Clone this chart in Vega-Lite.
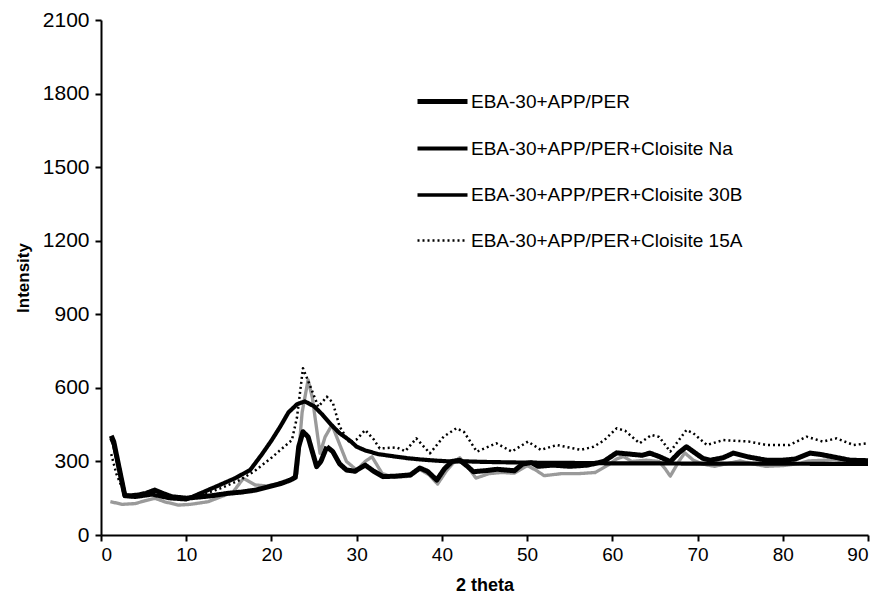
{
  "$schema": "https://vega.github.io/schema/vega-lite/v6.json",
  "width": 767,
  "height": 515,
  "autosize": {"type": "none"},
  "padding": {"left": 101, "top": 20, "right": 13, "bottom": 62},
  "background": "white",
  "config": {
    "view": {"stroke": null},
    "font": "Liberation Sans",
    "axis": {
      "grid": false,
      "domainColor": "black",
      "domainWidth": 2,
      "tickColor": "black",
      "tickWidth": 2,
      "tickSize": 6,
      "labelColor": "black",
      "titleColor": "black",
      "labelFont": "Liberation Sans",
      "titleFont": "Liberation Sans",
      "titleFontWeight": "bold"
    }
  },
  "data": {
    "values": [
      {"s": "C", "x": 1.1, "y": 136}, {"s": "C", "x": 2.5, "y": 125}, {"s": "C", "x": 4, "y": 128}, {"s": "C", "x": 5.2, "y": 140},
      {"s": "C", "x": 6.3, "y": 150}, {"s": "C", "x": 7.5, "y": 135}, {"s": "C", "x": 9.1, "y": 122}, {"s": "C", "x": 10.5, "y": 125},
      {"s": "C", "x": 12.6, "y": 136}, {"s": "C", "x": 14, "y": 155}, {"s": "C", "x": 15.5, "y": 175}, {"s": "C", "x": 16.7, "y": 231},
      {"s": "C", "x": 18.1, "y": 204}, {"s": "C", "x": 19.5, "y": 200}, {"s": "C", "x": 21, "y": 212}, {"s": "C", "x": 22.3, "y": 225},
      {"s": "C", "x": 23, "y": 250}, {"s": "C", "x": 23.6, "y": 500}, {"s": "C", "x": 24.3, "y": 632}, {"s": "C", "x": 24.8, "y": 560},
      {"s": "C", "x": 25.7, "y": 333}, {"s": "C", "x": 26.3, "y": 400}, {"s": "C", "x": 27.1, "y": 449}, {"s": "C", "x": 28, "y": 370},
      {"s": "C", "x": 28.8, "y": 300}, {"s": "C", "x": 30, "y": 265}, {"s": "C", "x": 31, "y": 300}, {"s": "C", "x": 31.8, "y": 319},
      {"s": "C", "x": 33, "y": 250}, {"s": "C", "x": 34.5, "y": 235}, {"s": "C", "x": 36.3, "y": 240}, {"s": "C", "x": 37.4, "y": 268},
      {"s": "C", "x": 38.5, "y": 245}, {"s": "C", "x": 39.5, "y": 208}, {"s": "C", "x": 40.5, "y": 260}, {"s": "C", "x": 41.5, "y": 300},
      {"s": "C", "x": 42.1, "y": 315}, {"s": "C", "x": 43, "y": 280}, {"s": "C", "x": 44, "y": 232}, {"s": "C", "x": 45.5, "y": 250},
      {"s": "C", "x": 47, "y": 255}, {"s": "C", "x": 48.5, "y": 252}, {"s": "C", "x": 50, "y": 283}, {"s": "C", "x": 51, "y": 265},
      {"s": "C", "x": 52, "y": 242}, {"s": "C", "x": 54, "y": 250}, {"s": "C", "x": 56, "y": 250}, {"s": "C", "x": 58, "y": 255},
      {"s": "C", "x": 59.5, "y": 285}, {"s": "C", "x": 60.5, "y": 310}, {"s": "C", "x": 61.3, "y": 320}, {"s": "C", "x": 62.3, "y": 300},
      {"s": "C", "x": 64, "y": 305}, {"s": "C", "x": 65.5, "y": 300}, {"s": "C", "x": 66.2, "y": 270}, {"s": "C", "x": 66.8, "y": 240},
      {"s": "C", "x": 67.8, "y": 300}, {"s": "C", "x": 68.5, "y": 335}, {"s": "C", "x": 69.5, "y": 305}, {"s": "C", "x": 70.5, "y": 290},
      {"s": "C", "x": 72, "y": 280}, {"s": "C", "x": 74, "y": 295}, {"s": "C", "x": 75, "y": 302}, {"s": "C", "x": 76.5, "y": 290},
      {"s": "C", "x": 78, "y": 280}, {"s": "C", "x": 80, "y": 283}, {"s": "C", "x": 82, "y": 292}, {"s": "C", "x": 83, "y": 302},
      {"s": "C", "x": 85, "y": 305}, {"s": "C", "x": 86, "y": 308}, {"s": "C", "x": 88, "y": 297}, {"s": "C", "x": 90, "y": 300},

      {"s": "A", "x": 1.2, "y": 405}, {"s": "A", "x": 1.5, "y": 380}, {"s": "A", "x": 2.8, "y": 160}, {"s": "A", "x": 3.5, "y": 160},
      {"s": "A", "x": 4.4, "y": 163}, {"s": "A", "x": 5.3, "y": 170}, {"s": "A", "x": 6.3, "y": 183}, {"s": "A", "x": 7.2, "y": 170},
      {"s": "A", "x": 8.3, "y": 156}, {"s": "A", "x": 10, "y": 150}, {"s": "A", "x": 11.8, "y": 156}, {"s": "A", "x": 13, "y": 160},
      {"s": "A", "x": 14.9, "y": 170}, {"s": "A", "x": 16.5, "y": 175}, {"s": "A", "x": 18.1, "y": 183}, {"s": "A", "x": 19.5, "y": 195},
      {"s": "A", "x": 21.2, "y": 211}, {"s": "A", "x": 22.2, "y": 224}, {"s": "A", "x": 22.8, "y": 235}, {"s": "A", "x": 23.2, "y": 360},
      {"s": "A", "x": 23.7, "y": 421}, {"s": "A", "x": 24.3, "y": 400}, {"s": "A", "x": 25.3, "y": 279}, {"s": "A", "x": 25.8, "y": 300},
      {"s": "A", "x": 26.5, "y": 360}, {"s": "A", "x": 27.2, "y": 340}, {"s": "A", "x": 28, "y": 290}, {"s": "A", "x": 28.8, "y": 265},
      {"s": "A", "x": 29.8, "y": 260}, {"s": "A", "x": 31, "y": 285}, {"s": "A", "x": 32, "y": 260}, {"s": "A", "x": 33.1, "y": 238},
      {"s": "A", "x": 34.5, "y": 240}, {"s": "A", "x": 36.3, "y": 245}, {"s": "A", "x": 37.4, "y": 273}, {"s": "A", "x": 38.3, "y": 260},
      {"s": "A", "x": 39.4, "y": 224}, {"s": "A", "x": 40.3, "y": 270}, {"s": "A", "x": 41.2, "y": 300}, {"s": "A", "x": 42.1, "y": 305},
      {"s": "A", "x": 43, "y": 280}, {"s": "A", "x": 43.7, "y": 258}, {"s": "A", "x": 45, "y": 262}, {"s": "A", "x": 46.5, "y": 268},
      {"s": "A", "x": 48.5, "y": 262}, {"s": "A", "x": 49.5, "y": 290}, {"s": "A", "x": 50.5, "y": 295}, {"s": "A", "x": 51.3, "y": 280},
      {"s": "A", "x": 53, "y": 285}, {"s": "A", "x": 55, "y": 280}, {"s": "A", "x": 57.1, "y": 285}, {"s": "A", "x": 59, "y": 300},
      {"s": "A", "x": 60.5, "y": 335}, {"s": "A", "x": 62, "y": 330}, {"s": "A", "x": 63.5, "y": 325}, {"s": "A", "x": 64.4, "y": 334},
      {"s": "A", "x": 65.5, "y": 320}, {"s": "A", "x": 66.8, "y": 299}, {"s": "A", "x": 67.8, "y": 335}, {"s": "A", "x": 68.7, "y": 360},
      {"s": "A", "x": 69.5, "y": 340}, {"s": "A", "x": 70.6, "y": 313}, {"s": "A", "x": 71.5, "y": 305}, {"s": "A", "x": 73, "y": 315},
      {"s": "A", "x": 74.2, "y": 334}, {"s": "A", "x": 76, "y": 318}, {"s": "A", "x": 78.1, "y": 305}, {"s": "A", "x": 80, "y": 305},
      {"s": "A", "x": 81.5, "y": 310}, {"s": "A", "x": 83.2, "y": 334}, {"s": "A", "x": 84.5, "y": 328}, {"s": "A", "x": 86, "y": 318},
      {"s": "A", "x": 87.9, "y": 305}, {"s": "A", "x": 90, "y": 303},

      {"s": "B", "x": 1.2, "y": 395}, {"s": "B", "x": 1.5, "y": 370}, {"s": "B", "x": 2.8, "y": 160}, {"s": "B", "x": 4, "y": 155},
      {"s": "B", "x": 6, "y": 165}, {"s": "B", "x": 8, "y": 150}, {"s": "B", "x": 10, "y": 145}, {"s": "B", "x": 12.2, "y": 178},
      {"s": "B", "x": 14, "y": 205}, {"s": "B", "x": 15.7, "y": 231}, {"s": "B", "x": 17.5, "y": 265}, {"s": "B", "x": 18.9, "y": 330},
      {"s": "B", "x": 20, "y": 385}, {"s": "B", "x": 21, "y": 440}, {"s": "B", "x": 22, "y": 500}, {"s": "B", "x": 23, "y": 533},
      {"s": "B", "x": 23.9, "y": 545}, {"s": "B", "x": 25, "y": 525}, {"s": "B", "x": 26, "y": 490}, {"s": "B", "x": 27, "y": 450},
      {"s": "B", "x": 28, "y": 415}, {"s": "B", "x": 29.2, "y": 385}, {"s": "B", "x": 30, "y": 360}, {"s": "B", "x": 31, "y": 345},
      {"s": "B", "x": 32.5, "y": 330}, {"s": "B", "x": 34.7, "y": 319}, {"s": "B", "x": 36, "y": 313}, {"s": "B", "x": 37.5, "y": 308},
      {"s": "B", "x": 39.4, "y": 303}, {"s": "B", "x": 41, "y": 300}, {"s": "B", "x": 43, "y": 300}, {"s": "B", "x": 45, "y": 298},
      {"s": "B", "x": 50, "y": 295}, {"s": "B", "x": 55, "y": 294}, {"s": "B", "x": 60, "y": 292}, {"s": "B", "x": 65, "y": 292},
      {"s": "B", "x": 70, "y": 291}, {"s": "B", "x": 75, "y": 291}, {"s": "B", "x": 80, "y": 291}, {"s": "B", "x": 85, "y": 290},
      {"s": "B", "x": 90, "y": 290},

      {"s": "D", "x": 1.2, "y": 330}, {"s": "D", "x": 1.8, "y": 250}, {"s": "D", "x": 2.8, "y": 165}, {"s": "D", "x": 4, "y": 160},
      {"s": "D", "x": 6, "y": 170}, {"s": "D", "x": 8, "y": 150}, {"s": "D", "x": 10, "y": 145}, {"s": "D", "x": 12, "y": 165},
      {"s": "D", "x": 14, "y": 190}, {"s": "D", "x": 16.3, "y": 224}, {"s": "D", "x": 18, "y": 260}, {"s": "D", "x": 20, "y": 315},
      {"s": "D", "x": 21.5, "y": 360}, {"s": "D", "x": 22.4, "y": 387}, {"s": "D", "x": 23, "y": 480}, {"s": "D", "x": 23.7, "y": 680},
      {"s": "D", "x": 24.4, "y": 620}, {"s": "D", "x": 25.5, "y": 523}, {"s": "D", "x": 26.5, "y": 564}, {"s": "D", "x": 27.2, "y": 540},
      {"s": "D", "x": 28, "y": 442}, {"s": "D", "x": 29.2, "y": 375}, {"s": "D", "x": 30, "y": 390}, {"s": "D", "x": 31, "y": 428},
      {"s": "D", "x": 32, "y": 390}, {"s": "D", "x": 32.7, "y": 353}, {"s": "D", "x": 34.7, "y": 357}, {"s": "D", "x": 35.7, "y": 342},
      {"s": "D", "x": 37, "y": 394}, {"s": "D", "x": 38.6, "y": 333}, {"s": "D", "x": 40.2, "y": 401}, {"s": "D", "x": 41.7, "y": 435},
      {"s": "D", "x": 42.6, "y": 420}, {"s": "D", "x": 44.1, "y": 340}, {"s": "D", "x": 46.4, "y": 374}, {"s": "D", "x": 48.2, "y": 340},
      {"s": "D", "x": 50.1, "y": 381}, {"s": "D", "x": 51.6, "y": 347}, {"s": "D", "x": 53.5, "y": 367}, {"s": "D", "x": 56.3, "y": 347},
      {"s": "D", "x": 57.8, "y": 360}, {"s": "D", "x": 59, "y": 385}, {"s": "D", "x": 60.5, "y": 435}, {"s": "D", "x": 61.5, "y": 425},
      {"s": "D", "x": 63.2, "y": 374}, {"s": "D", "x": 64.6, "y": 408}, {"s": "D", "x": 65.5, "y": 400}, {"s": "D", "x": 66.8, "y": 340},
      {"s": "D", "x": 68.7, "y": 428}, {"s": "D", "x": 69.5, "y": 415}, {"s": "D", "x": 71.1, "y": 367}, {"s": "D", "x": 73, "y": 387},
      {"s": "D", "x": 76, "y": 381}, {"s": "D", "x": 78.1, "y": 367}, {"s": "D", "x": 80.8, "y": 367}, {"s": "D", "x": 82.8, "y": 401},
      {"s": "D", "x": 84.7, "y": 381}, {"s": "D", "x": 86.3, "y": 394}, {"s": "D", "x": 88.3, "y": 367}, {"s": "D", "x": 90, "y": 374}
    ]
  },
  "mark": {"type": "line", "interpolate": "linear", "strokeJoin": "round", "strokeCap": "butt"},
  "encoding": {
    "x": {
      "field": "x",
      "type": "quantitative",
      "scale": {"domain": [0, 90], "nice": false, "zero": false},
      "axis": {
        "values": [0, 10, 20, 30, 40, 50, 60, 70, 80, 90],
        "format": "d",
        "title": "2 theta",
        "labelFontSize": 19,
        "labelPadding": 4,
        "titleFontSize": 18,
        "titlePadding": 12
      }
    },
    "y": {
      "field": "y",
      "type": "quantitative",
      "scale": {"domain": [0, 2100], "nice": false},
      "axis": {
        "values": [0, 300, 600, 900, 1200, 1500, 1800, 2100],
        "format": "d",
        "title": "Intensity",
        "labelFontSize": 21,
        "labelPadding": 6,
        "titleFontSize": 17,
        "titlePadding": 10
      }
    },
    "color": {
      "condition": {"test": "datum.s === 'C'", "value": "#9a9a9a"},
      "value": "#000000"
    },
    "strokeWidth": {
      "field": "s",
      "type": "nominal",
      "scale": {"domain": ["A", "B", "C", "D"], "range": [5, 2.5, 4.5, 1.6]},
      "legend": {
        "title": null,
        "orient": "none",
        "legendX": 314,
        "legendY": 54,
        "symbolType": "stroke",
        "symbolSize": 2500,
        "symbolStrokeColor": "black",
        "rowPadding": 9,
        "labelFontSize": 19,
        "labelColor": "black",
        "labelFont": "Liberation Sans",
        "labelOffset": 1,
        "labelLimit": 0,
        "labelExpr": "{'A': 'EBA-30+APP/PER', 'B': 'EBA-30+APP/PER+Cloisite Na', 'C': 'EBA-30+APP/PER+Cloisite 30B', 'D': 'EBA-30+APP/PER+Cloisite 15A'}[datum.label]"
      }
    },
    "strokeDash": {
      "field": "s",
      "type": "nominal",
      "scale": {"domain": ["A", "B", "C", "D"], "range": [[1, 0], [1, 0], [1, 0], [2, 3]]},
      "legend": {
        "title": null,
        "orient": "none",
        "legendX": 314,
        "legendY": 54,
        "symbolType": "stroke",
        "symbolSize": 2500,
        "symbolStrokeColor": "black",
        "rowPadding": 9,
        "labelFontSize": 19,
        "labelColor": "black",
        "labelFont": "Liberation Sans",
        "labelOffset": 1,
        "labelLimit": 0,
        "labelExpr": "{'A': 'EBA-30+APP/PER', 'B': 'EBA-30+APP/PER+Cloisite Na', 'C': 'EBA-30+APP/PER+Cloisite 30B', 'D': 'EBA-30+APP/PER+Cloisite 15A'}[datum.label]"
      }
    }
  }
}
